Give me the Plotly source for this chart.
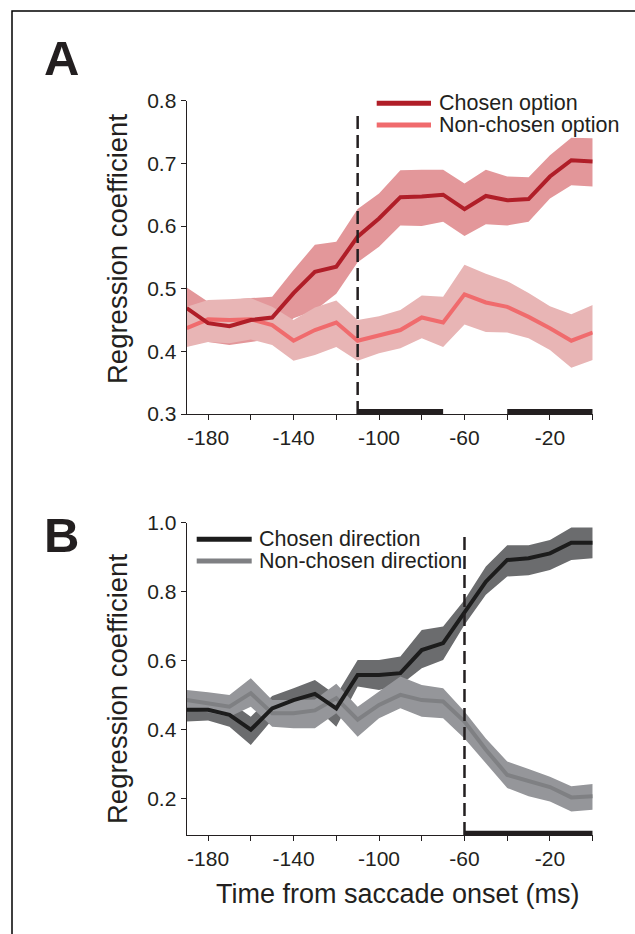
import plotly.graph_objects as go

# ---------------- data ----------------
time_ms = [-190, -180, -170, -160, -150, -140, -130, -120, -110, -100,
           -90, -80, -70, -60, -50, -40, -30, -20, -10, 0]

a_chosen_mean = [0.469, 0.445, 0.440, 0.450, 0.454, 0.493, 0.527, 0.535, 0.583, 0.612,
                 0.646, 0.647, 0.650, 0.627, 0.648, 0.641, 0.643, 0.679, 0.705, 0.703]
a_chosen_upper = [0.502, 0.479, 0.482, 0.485, 0.487, 0.530, 0.570, 0.575, 0.627, 0.652,
                  0.689, 0.690, 0.690, 0.668, 0.690, 0.679, 0.678, 0.713, 0.741, 0.740]
a_chosen_lower = [0.435, 0.415, 0.410, 0.415, 0.420, 0.453, 0.465, 0.492, 0.542, 0.567,
                  0.601, 0.600, 0.607, 0.584, 0.603, 0.601, 0.607, 0.644, 0.665, 0.663]

a_non_mean = [0.437, 0.451, 0.450, 0.451, 0.442, 0.417, 0.434, 0.446, 0.417, 0.426,
              0.434, 0.454, 0.446, 0.491, 0.478, 0.471, 0.455, 0.437, 0.417, 0.430]
a_non_upper = [0.471, 0.482, 0.483, 0.485, 0.471, 0.450, 0.470, 0.481, 0.450, 0.456,
               0.466, 0.489, 0.487, 0.538, 0.524, 0.512, 0.493, 0.472, 0.459, 0.474]
a_non_lower = [0.407, 0.415, 0.413, 0.419, 0.410, 0.385, 0.394, 0.407, 0.385, 0.397,
               0.405, 0.421, 0.407, 0.443, 0.431, 0.430, 0.421, 0.402, 0.374, 0.386]

b_chosen_mean = [0.458, 0.458, 0.443, 0.400, 0.462, 0.486, 0.504, 0.462, 0.559, 0.559,
                 0.564, 0.631, 0.651, 0.742, 0.829, 0.892, 0.897, 0.911, 0.942, 0.942]
b_chosen_upper = [0.486, 0.486, 0.482, 0.438, 0.498, 0.520, 0.544, 0.500, 0.602, 0.602,
                  0.612, 0.689, 0.699, 0.776, 0.873, 0.935, 0.935, 0.950, 0.986, 0.986]
b_chosen_lower = [0.424, 0.427, 0.409, 0.356, 0.429, 0.453, 0.467, 0.409, 0.525, 0.515,
                  0.530, 0.578, 0.602, 0.704, 0.791, 0.844, 0.848, 0.863, 0.892, 0.897]

b_non_mean = [0.486, 0.477, 0.467, 0.506, 0.448, 0.448, 0.456, 0.491, 0.429, 0.472,
              0.501, 0.486, 0.482, 0.424, 0.342, 0.269, 0.250, 0.234, 0.204, 0.207]
b_non_upper = [0.515, 0.509, 0.501, 0.549, 0.486, 0.486, 0.488, 0.533, 0.467, 0.511,
               0.554, 0.530, 0.520, 0.453, 0.375, 0.308, 0.286, 0.264, 0.236, 0.243]
b_non_lower = [0.458, 0.451, 0.438, 0.467, 0.409, 0.404, 0.404, 0.448, 0.380, 0.433,
               0.462, 0.438, 0.433, 0.375, 0.303, 0.231, 0.207, 0.192, 0.163, 0.168]

onset_a = -110
onset_b = -60
sig_a = [(-110, -70), (-40, 0)]
sig_b = [(-60, 0)]

x_tickvals = [-180, -160, -140, -120, -100, -80, -60, -40, -20, 0]
x_ticktext = ["-180", "", "-140", "", "-100", "", "-60", "", "-20", ""]
ya_tickvals = [0.3, 0.4, 0.5, 0.6, 0.7, 0.8]
ya_ticktext = ["0.3", "0.4", "0.5", "0.6", "0.7", "0.8"]
yb_tickvals = [0.2, 0.4, 0.6, 0.8, 1.0]
yb_ticktext = ["0.2", "0.4", "0.6", "0.8", "1.0"]

legend_a = ["Chosen option", "Non-chosen option"]
legend_b = ["Chosen direction", "Non-chosen direction"]

# ---------------- styles ----------------
W, H = 635, 934
FONT = "Liberation Sans, Arial, Helvetica, sans-serif"
INK = "#231F20"
C_A_CH, F_A_CH = "#B01E28", "#E3979A"
C_A_NC, F_A_NC = "#F06B6D", "#E8B5B5"
C_B_CH, F_B_CH = "#1C1C1C", "#6B6C6E"
C_B_NC, F_B_NC = "#7F8083", "#95969A"


def px(x):
    return x / W


def py(y):
    return 1 - y / H


fig = go.Figure()


def band(xa, ya, upper, lower, color):
    fig.add_trace(go.Scatter(x=time_ms + time_ms[::-1], y=upper + lower[::-1],
                             fill="toself", fillcolor=color, mode="none",
                             hoverinfo="skip", showlegend=False,
                             xaxis=xa, yaxis=ya))


def line(xa, ya, vals, color, name):
    fig.add_trace(go.Scatter(x=time_ms, y=vals, mode="lines", name=name,
                             line=dict(color=color, width=4),
                             showlegend=False, xaxis=xa, yaxis=ya))


# Panel A
band("x", "y", a_chosen_upper, a_chosen_lower, F_A_CH)
band("x", "y", a_non_upper, a_non_lower, F_A_NC)
line("x", "y", a_non_mean, C_A_NC, legend_a[1])
line("x", "y", a_chosen_mean, C_A_CH, legend_a[0])

# Panel B
band("x2", "y2", b_chosen_upper, b_chosen_lower, F_B_CH)
band("x2", "y2", b_non_upper, b_non_lower, F_B_NC)
line("x2", "y2", b_non_mean, C_B_NC, legend_b[1])
line("x2", "y2", b_chosen_mean, C_B_CH, legend_b[0])

xdom = [px(186.7), px(592.7)]
ya_dom = [py(414), py(100.7)]
yb_dom = [py(835), py(522.7)]

axis_common = dict(showline=True, linecolor=INK, linewidth=1.2, ticks="outside",
                   ticklen=5, tickwidth=1, tickcolor=INK, showgrid=False,
                   zeroline=False, automargin=False,
                   tickfont=dict(family=FONT, size=21, color=INK))

fig.update_layout(
    width=W, height=H, autosize=False,
    margin=dict(l=0, r=0, t=0, b=0, pad=0),
    paper_bgcolor="white", plot_bgcolor="white",
    font=dict(family=FONT, color=INK),
    showlegend=False,
    xaxis=dict(domain=xdom, anchor="y", range=[-190, 0], tickmode="array",
               tickvals=x_tickvals, ticktext=x_ticktext, **axis_common),
    yaxis=dict(domain=ya_dom, anchor="x", range=[0.3, 0.8], tickmode="array",
               tickvals=ya_tickvals, ticktext=ya_ticktext, **axis_common),
    xaxis2=dict(domain=xdom, anchor="y2", range=[-190, 0], tickmode="array",
                tickvals=x_tickvals, ticktext=x_ticktext, **axis_common),
    yaxis2=dict(domain=yb_dom, anchor="x2", range=[0.095, 1.0], tickmode="array",
                tickvals=yb_tickvals, ticktext=yb_ticktext, **axis_common),
)

shapes = []
# frame
shapes.append(dict(type="rect", xref="paper", yref="paper", x0=px(12), x1=1.05,
                   y0=-0.05, y1=py(11), line=dict(color="black", width=1.5)))
# dashed onset lines
shapes.append(dict(type="line", xref="x", yref="y", x0=onset_a, x1=onset_a,
                   y0=0.3, y1=0.785, line=dict(color=INK, width=2.5, dash="13px,6px")))
shapes.append(dict(type="line", xref="x2", yref="y2", x0=onset_b, x1=onset_b,
                   y0=0.095, y1=0.974, line=dict(color=INK, width=2.5, dash="13px,6px")))
# significance bars
for s0, s1 in sig_a:
    shapes.append(dict(type="rect", xref="x", yref="y domain", x0=s0, x1=s1,
                       y0=0.0, y1=0.016, fillcolor=INK, line=dict(width=0)))
for s0, s1 in sig_b:
    shapes.append(dict(type="rect", xref="x2", yref="y2 domain", x0=s0, x1=s1,
                       y0=0.0, y1=0.014, fillcolor=INK, line=dict(width=0)))

# manual legends
leg_items = [
    (376.7, 431, 103.3, 436.5, C_A_CH, legend_a[0]),
    (376.7, 431, 125.0, 436.5, C_A_NC, legend_a[1]),
    (196.7, 251.7, 539.3, 256.5, C_B_CH, legend_b[0]),
    (196.7, 251.7, 561.0, 256.5, C_B_NC, legend_b[1]),
]
annotations = []
for x0, x1, yy, tx, col, txt in leg_items:
    shapes.append(dict(type="line", xref="paper", yref="paper", x0=px(x0), x1=px(x1),
                       y0=py(yy), y1=py(yy), line=dict(color=col, width=5)))
    annotations.append(dict(xref="paper", yref="paper", x=px(tx), y=py(yy),
                            xanchor="left", yanchor="middle", showarrow=False,
                            text=txt, font=dict(family=FONT, size=21.5, color=INK)))

# panel letters
annotations.append(dict(xref="paper", yref="paper", x=px(61), y=py(58), text="<b>A</b>",
                        showarrow=False, xanchor="center", yanchor="middle",
                        font=dict(family=FONT, size=49, color=INK)))
annotations.append(dict(xref="paper", yref="paper", x=px(61), y=py(535), text="<b>B</b>",
                        showarrow=False, xanchor="center", yanchor="middle",
                        font=dict(family=FONT, size=49, color=INK)))
# axis titles
annotations.append(dict(xref="paper", yref="paper", x=px(117), y=py(249),
                        text="Regression coefficient", textangle=-90, showarrow=False,
                        xanchor="center", yanchor="middle",
                        font=dict(family=FONT, size=27.5, color=INK)))
annotations.append(dict(xref="paper", yref="paper", x=px(117), y=py(689),
                        text="Regression coefficient", textangle=-90, showarrow=False,
                        xanchor="center", yanchor="middle",
                        font=dict(family=FONT, size=27.5, color=INK)))
annotations.append(dict(xref="paper", yref="paper", x=px(397.5), y=py(894),
                        text="Time from saccade onset (ms)", showarrow=False,
                        xanchor="center", yanchor="middle",
                        font=dict(family=FONT, size=27, color=INK)))

fig.update_layout(shapes=shapes, annotations=annotations)
fig.write_html(
    "out.html",
    config={"displayModeBar": False},
    post_script="document.body.style.margin='0px';document.body.style.overflow='hidden';",
)
